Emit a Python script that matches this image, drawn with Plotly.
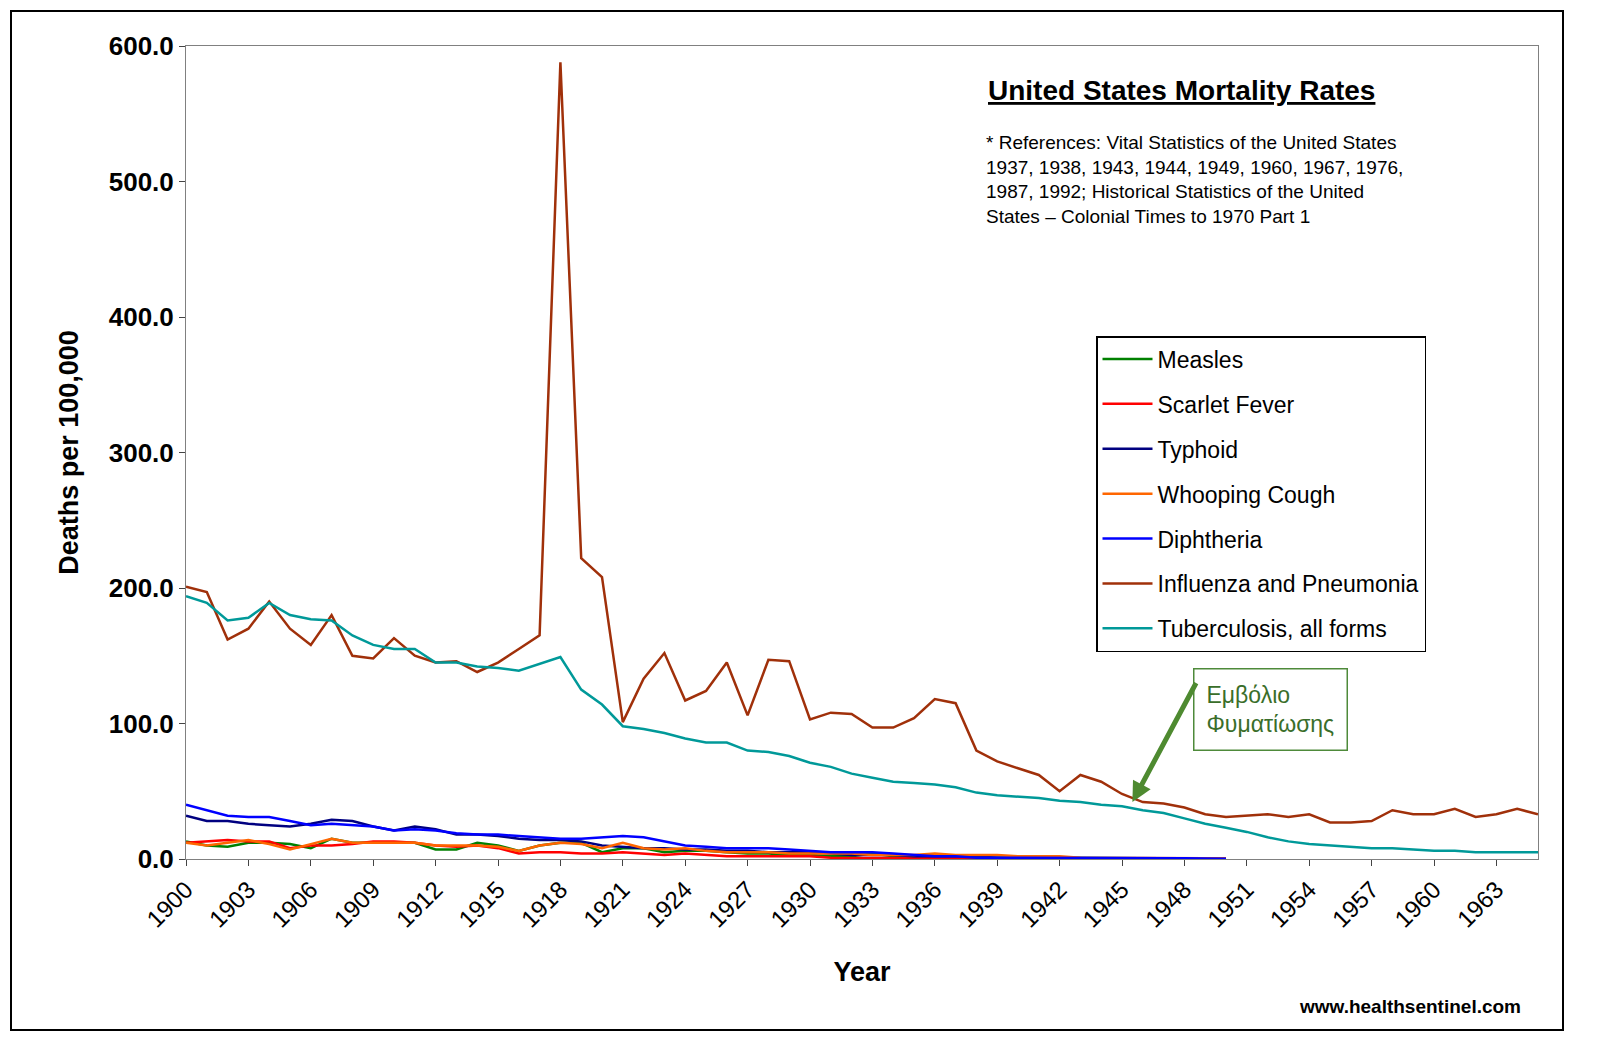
import plotly.graph_objects as go

years = list(range(1900, 1966))
influenza = [201,197,162,170,190,170,158,180,150,148,163,150,145,146,138,145,155,165,588,222,208,101,133,152,117,124,145,106,147,146,103,108,107,97,97,104,118,115,
             80,72,67,62,50,62,57,48,42,41,38,33,31,32,33,31,33,27,27,28,36,33,33,37,31,33,37,33]
tuberculosis = [194,189,176,178,189,180,177,176,165,158,155,155,145,145,142,141,139,144,149,125,114,98,96,93,89,86,86,80,79,76,71,68,63,60,57,56,55,53,
                49,47,46,45,43,42,40,39,36,34,30,26,23,20,16,13,11,10,9,8,8,7,6,6,5,5,5,5]
diphtheria = [40,36,32,31,31,28,25,26,25,24,21,22,21,19,18,18,17,16,15,15,16,17,16,13,10,9,8,8,8,7,6,5,5,5,4,3,2,2,1,1,1,1,1,1,1,1,1,0.5,0.5,0.3,0.2]
typhoid = [32,28,28,26,25,24,26,29,28,24,21,24,22,18,18,17,15,14,14,13,10,9,8,8,7,7,6,6,5,5,5,4,3,3,3,2,2,2,2,1,1,1,1,1,1,1,0.5,0.5,0.3,0.2,0.1]
measles = [13,10,9,12,12,11,8,15,12,12,12,12,7,7,12,10,6,10,12,12,5,8,8,5,6,6,5,4,4,3,3,2,2,4,2,1,2,2,1,1,1,1,1,1,0.5,0.5,0.5,0.3,0.3,0.2,0.2]
scarlet = [12,13,14,13,13,8,10,10,11,13,13,12,10,9,10,8,4,5,5,4,4,5,4,3,4,3,2,2,2,2,2,1,1,1,1,1,0.5,0.5,0.5,0.3,0.3,0.2,0.2,0.1,0.1,0.1,0.1,0.1,0.1,0.1,0.1]
whooping = [12,10,12,14,11,7,11,15,12,12,12,12,10,10,10,9,6,10,12,11,8,12,8,7,8,6,5,5,5,4,4,4,4,3,3,3,4,3,3,3,2,2,2,1,1,1,1,1,1,0.5,0.3]
tick_years = list(range(1900, 1964, 3))

series = [
    ("Measles", measles, "#008000"),
    ("Scarlet Fever", scarlet, "#ff0000"),
    ("Typhoid", typhoid, "#000080"),
    ("Whooping Cough", whooping, "#ff6600"),
    ("Diphtheria", diphtheria, "#0000ff"),
    ("Influenza and Pneumonia", influenza, "#a0300a"),
    ("Tuberculosis, all forms", tuberculosis, "#009999"),
]

fig = go.Figure()
for name, vals, col in series:
    fig.add_trace(go.Scatter(x=years[:len(vals)], y=vals, name=name, mode="lines", legendgroup=name,
                             line=dict(color=col, width=2.5)))

W, H = 1600, 1054
L, R, T, B = 178, 70, 38, 203
pw, ph = W - L - R, H - T - B
def px(xp): return (xp - L) / pw
def py(yp): return (H - B - yp) / ph

fig.update_layout(
    width=W, height=H, margin=dict(l=L, r=R, t=T, b=B),
    paper_bgcolor="white", plot_bgcolor="white",
    font=dict(family="Arial, Liberation Sans", color="black"),
    showlegend=True,
    legend=dict(x=px(1088), y=py(328), xanchor="left", yanchor="top",
                bordercolor="black", borderwidth=1.5, bgcolor="white",
                font=dict(size=23, family="Arial, Liberation Sans"),
                itemwidth=50, tracegroupgap=12),
    xaxis=dict(range=[1900, 1965], tickvals=tick_years, ticktext=[str(y) for y in tick_years],
               tickangle=-45, tickfont=dict(size=24), ticks="outside", ticklen=6,
               showgrid=False, zeroline=False, showline=True, linecolor="#808080", mirror=True,
               title=dict(text="<b>Year</b>", font=dict(size=27), standoff=30)),
    yaxis=dict(range=[0, 600], dtick=100, tickformat=".1f", tickfont=dict(size=26),
               tickprefix="<b>", ticksuffix="</b>",
               ticks="outside", ticklen=6, showgrid=False, zeroline=False,
               showline=True, linecolor="#808080", mirror=True,
               title=dict(text="<b>Deaths per 100,000</b>", font=dict(size=27), standoff=22)),
)

fig.add_annotation(xref="paper", yref="paper", x=px(1173), y=py(82), text="<b><u>United States Mortality Rates</u></b>",
                   showarrow=False, font=dict(size=28), xanchor="center", yanchor="middle")
fig.add_annotation(xref="paper", yref="paper", x=px(976), y=py(122), xanchor="left", yanchor="top", align="left",
                   text="* References: Vital Statistics of the United States<br>1937, 1938, 1943, 1944, 1949, 1960, 1967, 1976,<br>1987, 1992; Historical Statistics of the United<br>States – Colonial Times to 1970 Part 1",
                   showarrow=False, font=dict(size=19))
fig.add_annotation(xref="paper", yref="paper", x=px(1185), y=py(660), xanchor="left", yanchor="top", align="left",
                   text="Εμβόλιο<br>Φυματίωσης", showarrow=False, font=dict(size=23, color="#3a6e2a"),
                   bordercolor="#4e8a3a", borderwidth=1.5, borderpad=12, bgcolor="white")
fig.add_annotation(x=1945.5, y=42, ax=1948.6, ay=131, xref="x", yref="y", axref="x", ayref="y",
                   text="", showarrow=True, arrowhead=2, arrowsize=0.8, arrowwidth=5, arrowcolor="#4e8a30")
fig.add_annotation(xref="paper", yref="paper", x=px(1515), y=py(998), xanchor="right", yanchor="middle",
                   text="<b>www.healthsentinel.com</b>", showarrow=False, font=dict(size=19))
fig.add_shape(type="rect", xref="paper", yref="paper", x0=px(3), x1=px(1555), y0=py(1022), y1=py(3),
              line=dict(color="black", width=2))

fig.write_html("out.html")
